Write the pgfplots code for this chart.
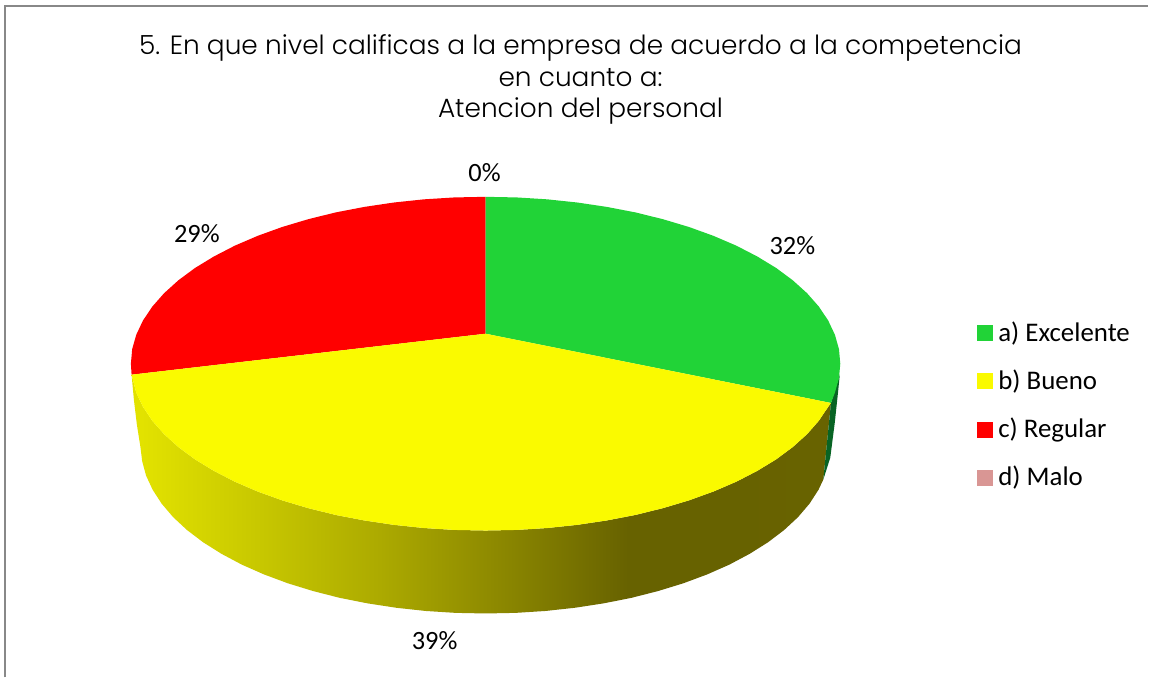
\documentclass[border=0pt]{standalone}
\usepackage{pgfplots}
\usepackage{fontspec}
\pgfplotsset{compat=1.18}
\setmainfont{Carlito}
\newfontfamily\titlefont[UprightFont=* Light]{Poppins}

\definecolor{excelente}{RGB}{33,211,55}
\definecolor{bueno}{RGB}{250,250,0}
\definecolor{regular}{RGB}{255,0,0}
\definecolor{malo}{RGB}{217,150,148}
\definecolor{greenside}{RGB}{8,100,36}
\definecolor{frameline}{RGB}{136,136,136}

% Shaded rim of the yellow slice, dark towards the lower right
\pgfdeclarehorizontalshading{rimshade}{100bp}{
  rgb(0bp)=(0.894,0.894,0);
  rgb(25.7bp)=(0.886,0.886,0);
  rgb(34bp)=(0.784,0.784,0);
  rgb(42.7bp)=(0.675,0.667,0);
  rgb(51.3bp)=(0.549,0.533,0);
  rgb(60.5bp)=(0.404,0.384,0);
  rgb(100bp)=(0.412,0.392,0)}

\begin{document}
\begin{tikzpicture}
\begin{axis}[
  scale only axis, width=1149bp, height=678bp,
  xmin=0, xmax=1149, ymin=0, ymax=678, y dir=reverse,
  axis lines=none, ticks=none, clip=false]

% page background
\addplot[fill=white, draw=none] coordinates {(0,0) (1149,0) (1149,678) (0,678)};

% outer frame (top and left edges only)
\addplot[frameline, line width=2bp] coordinates {(5.5,678) (5.5,6) (1149,6)};

% rim of the yellow slice
\addplot[shade, shading=rimshade, draw=none] coordinates {
  (831.7,403.3) (828.9,407.2) (819.6,421.1) (807.7,434.6) (793.4,447.5) (776.8,459.8)
  (757.9,471.3) (737,482.1) (714.2,491.9) (689.6,500.8) (663.5,508.6) (636,515.4)
  (607.4,520.9) (577.9,525.3) (547.6,528.5) (517,530.4) (486,531) (455,530.4)
  (424.4,528.5) (394.1,525.3) (364.6,520.9) (336,515.4) (308.5,508.6) (282.4,500.8)
  (257.8,491.9) (235,482.1) (214.1,471.3) (195.2,459.8) (178.6,447.5) (164.3,434.6)
  (152.4,421.1) (143.1,407.2) (136.4,393) (131.7,375)
  (134,400) (137,425) (140.5,447) (142.3,461.6) (146.2,476) (152.8,490.2) (161.8,504.1)
  (173.3,517.6) (187.2,530.5) (203.4,542.8) (221.7,554.3) (242,565.1) (264.2,574.9)
  (288.1,583.8) (313.5,591.6) (340.2,598.4) (368,603.9) (396.7,608.3) (426.1,611.5)
  (455.9,613.4) (486,614) (516.1,613.4) (545.9,611.5) (575.3,608.3) (604,603.9)
  (631.8,598.4) (658.5,591.6) (683.9,583.8) (707.8,574.9) (730,565.1) (750.3,554.3)
  (768.6,542.8) (784.8,530.5) (798.7,517.6) (810.2,504.1) (819.2,490.2) (824,480)
  (827,450) (829.5,425)};

% sliver of the green slice's rim
\addplot[fill=greenside, draw=none] coordinates {
  (840.5,375) (838.5,395) (835.5,423) (831,458) (824,480) (827,450) (829.5,425) (831.7,403.3)};

% red slice: 29 %
\addplot[fill=regular, draw=none] coordinates {
  (486,334) (131.7,375) (131,364) (132.3,349.4) (136.4,335) (143.1,320.8) (152.4,306.9)
  (164.3,293.4) (178.6,280.5) (195.2,268.2) (214.1,256.7) (235,245.9) (257.8,236.1)
  (282.4,227.2) (308.5,219.4) (336,212.6) (364.6,207.1) (394.1,202.7) (424.4,199.5)
  (455,197.6) (486,197)};

% green slice: 32 %
\addplot[fill=excelente, draw=none] coordinates {
  (486,334) (486,197) (517,197.6) (547.6,199.5) (577.9,202.7) (607.4,207.1) (636,212.6)
  (663.5,219.4) (689.6,227.2) (714.2,236.1) (737,245.9) (757.9,256.7) (776.8,268.2)
  (793.4,280.5) (807.7,293.4) (819.6,306.9) (828.9,320.8) (835.6,335) (839.7,349.4)
  (841,364) (839.7,378.6) (835.6,393) (831.7,403.3)};

% yellow slice: 39 %
\addplot[fill=bueno, draw=none] coordinates {
  (486,334) (831.7,403.3) (828.9,407.2) (819.6,421.1) (807.7,434.6) (793.4,447.5)
  (776.8,459.8) (757.9,471.3) (737,482.1) (714.2,491.9) (689.6,500.8) (663.5,508.6)
  (636,515.4) (607.4,520.9) (577.9,525.3) (547.6,528.5) (517,530.4) (486,531)
  (455,530.4) (424.4,528.5) (394.1,525.3) (364.6,520.9) (336,515.4) (308.5,508.6)
  (282.4,500.8) (257.8,491.9) (235,482.1) (214.1,471.3) (195.2,459.8) (178.6,447.5)
  (164.3,434.6) (152.4,421.1) (143.1,407.2) (136.4,393) (131.7,375)};

% legend keys
\addplot[only marks, mark=square*, mark size=7.5bp, color=excelente, mark options={fill=excelente, draw=excelente, line width=0pt}] coordinates {(985.5,333.5)};
\addplot[only marks, mark=square*, mark size=7.5bp, color=bueno, mark options={fill=bueno, draw=bueno, line width=0pt}] coordinates {(985.5,381.5)};
\addplot[only marks, mark=square*, mark size=7.5bp, color=regular, mark options={fill=regular, draw=regular, line width=0pt}] coordinates {(985.5,430)};
\addplot[only marks, mark=square*, mark size=7.5bp, color=malo, mark options={fill=malo, draw=malo, line width=0pt}] coordinates {(985.5,478)};

% legend text
\node[anchor=base west, inner sep=0pt, font=\fontsize{27}{27}\selectfont] at (axis cs:999,341.5) {a) Excelente};
\node[anchor=base west, inner sep=0pt, font=\fontsize{27}{27}\selectfont] at (axis cs:999,389.5) {b) Bueno};
\node[anchor=base west, inner sep=0pt, font=\fontsize{27}{27}\selectfont] at (axis cs:999,437.5) {c) Regular};
\node[anchor=base west, inner sep=0pt, font=\fontsize{27}{27}\selectfont] at (axis cs:999,485.5) {d) Malo};

% data labels
\node[anchor=base, inner sep=0pt, font=\fontsize{26.5}{27}\selectfont] at (axis cs:485,182) {0\%};
\node[anchor=base, inner sep=0pt, font=\fontsize{26.5}{27}\selectfont] at (axis cs:793,255) {32\%};
\node[anchor=base, inner sep=0pt, font=\fontsize{26.5}{27}\selectfont] at (axis cs:197,243) {29\%};
\node[anchor=base, inner sep=0pt, font=\fontsize{26.5}{27}\selectfont] at (axis cs:435,650) {39\%};

% title
\node[anchor=base, inner sep=0pt, font=\titlefont\fontsize{26.5}{28}\selectfont] at (axis cs:581,55) {5. En que nivel calificas a la empresa de acuerdo a la competencia};
\node[anchor=base, inner sep=0pt, font=\titlefont\fontsize{26.5}{28}\selectfont] at (axis cs:581,87) {en cuanto a:};
\node[anchor=base, inner sep=0pt, font=\titlefont\fontsize{26.5}{28}\selectfont] at (axis cs:581,118) {Atencion del personal};
\end{axis}
\end{tikzpicture}
\end{document}
